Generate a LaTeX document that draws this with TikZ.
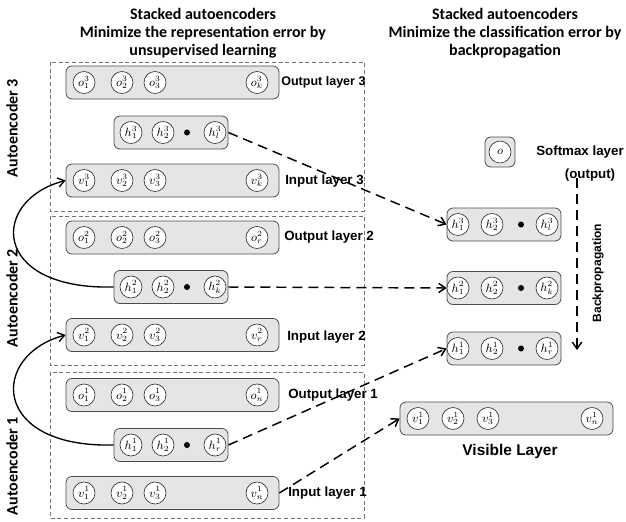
\documentclass[tikz,border=0pt]{standalone}
\usepackage{fontspec}
\newfontfamily\titlefont{Carlito}
\newfontfamily\labfont{Liberation Sans}
\usetikzlibrary{arrows.meta}
\tikzset{
  layerbox/.style={draw=black!70, fill=black!10, rounded corners=4.5pt, line width=0.6pt, inner sep=0pt, minimum height=24.75pt},
  unit/.style={circle, draw=black!80, fill=white, line width=0.5pt, inner sep=0pt, minimum size=16.5pt, font=\small},
  dotn/.style={circle, fill=black, inner sep=0pt, minimum size=4.5pt},
  aebox/.style={draw=black!55, dash pattern=on 3pt off 2pt, line width=0.5pt},
  lab/.style={font=\labfont\bfseries\fontsize{10}{12}\selectfont, anchor=west, inner sep=0pt},
  titlef/.style={font=\titlefont\bfseries\fontsize{12}{13.5}\selectfont, inner sep=0pt},
  feed/.style={line width=1.1pt, dash pattern=on 7.5pt off 4.5pt, -{Straight Barb[length=5pt,width=7pt]}},
  skipc/.style={line width=1pt, -{Straight Barb[length=5pt,width=7pt]}}
}
\begin{document}
\begin{tikzpicture}[x=0.75pt,y=-0.75pt]
\useasboundingbox (0,0) rectangle (626,522);
% titles
\node[titlef, align=center] (t1) at (203,33) {Stacked autoencoders\\Minimize the representation error by\\unsupervised learning};
\node[titlef, align=center] (t2) at (505,33) {Stacked autoencoders\\Minimize the classification error by\\backpropagation};
% autoencoder dashed boxes
\draw[aebox] (50,62) rectangle (364,211);
\draw[aebox] (50,216) rectangle (364,365);
\draw[aebox] (50,372) rectangle (364,518);
\node[titlef, rotate=90] (ae3) at (12,128) {Autoencoder 3};
\node[titlef, rotate=90] (ae2) at (12,298) {Autoencoder 2};
\node[titlef, rotate=90] (ae1) at (12,466) {Autoencoder 1};
% layer boxes (left)
\node[layerbox, minimum width=159.75pt] (o3box) at (172.5,82.5) {};
\node[layerbox, minimum width=85.5pt] (h3box) at (171,132.5) {};
\node[layerbox, minimum width=159.75pt] (i3box) at (172.5,180.5) {};
\node[layerbox, minimum width=159.75pt] (o2box) at (172.5,237.5) {};
\node[layerbox, minimum width=85.5pt] (h2box) at (171,287) {};
\node[layerbox, minimum width=159.75pt] (i2box) at (172.5,335) {};
\node[layerbox, minimum width=159.75pt] (o1box) at (172.5,395) {};
\node[layerbox, minimum width=85.5pt] (h1box) at (171,445) {};
\node[layerbox, minimum width=159.75pt] (i1box) at (172.5,493) {};
% right boxes
\node[layerbox, minimum width=22.5pt, minimum height=22.5pt] (smbox) at (500,152) {};
\node[layerbox, minimum width=85.5pt] (rh3box) at (504,224.5) {};
\node[layerbox, minimum width=85.5pt] (rh2box) at (504,288) {};
\node[layerbox, minimum width=85.5pt] (rh1box) at (504,348.5) {};
\node[layerbox, minimum width=159.75pt] (visbox) at (506.5,418.5) {};
% units
\foreach \nm/\x/\t in {o3a/84/o^3_1, o3b/122/o^3_2, o3c/155/o^3_3, o3d/257/o^3_k}
  \node[unit] (\nm) at (\x,82.5) {$\t$};
\foreach \nm/\x/\t in {h3a/131/h^3_1, h3b/163/h^3_2, h3d/215/h^3_l}
  \node[unit] (\nm) at (\x,132.5) {$\t$};
\foreach \nm/\x/\t in {i3a/84/v^3_1, i3b/122/v^3_2, i3c/155/v^3_3, i3d/257/v^3_k}
  \node[unit] (\nm) at (\x,180.5) {$\t$};
\foreach \nm/\x/\t in {o2a/84/o^2_1, o2b/122/o^2_2, o2c/155/o^2_3, o2d/257/o^2_r}
  \node[unit] (\nm) at (\x,237.5) {$\t$};
\foreach \nm/\x/\t in {h2a/131/h^2_1, h2b/163/h^2_2, h2d/215/h^2_k}
  \node[unit] (\nm) at (\x,287) {$\t$};
\foreach \nm/\x/\t in {i2a/84/v^2_1, i2b/122/v^2_2, i2c/155/v^2_3, i2d/257/v^2_r}
  \node[unit] (\nm) at (\x,335) {$\t$};
\foreach \nm/\x/\t in {o1a/84/o^1_1, o1b/122/o^1_2, o1c/155/o^1_3, o1d/257/o^1_n}
  \node[unit] (\nm) at (\x,395) {$\t$};
\foreach \nm/\x/\t in {h1a/131/h^1_1, h1b/163/h^1_2, h1d/215/h^1_r}
  \node[unit] (\nm) at (\x,445) {$\t$};
\foreach \nm/\x/\t in {i1a/84/v^1_1, i1b/122/v^1_2, i1c/155/v^1_3, i1d/257/v^1_n}
  \node[unit] (\nm) at (\x,493) {$\t$};
\node[dotn] (h3dot) at (187,132.5) {};
\node[dotn] (h2dot) at (187,287) {};
\node[dotn] (h1dot) at (187,445) {};
% right units
\node[unit] (smo) at (500,152) {$o$};
\foreach \nm/\x/\t in {rh3a/458/h^3_1, rh3b/492/h^3_2, rh3d/547/h^3_l}
  \node[unit] (\nm) at (\x,224.5) {$\t$};
\foreach \nm/\x/\t in {rh2a/458/h^2_1, rh2b/492/h^2_2, rh2d/547/h^2_k}
  \node[unit] (\nm) at (\x,288) {$\t$};
\foreach \nm/\x/\t in {rh1a/458/h^1_1, rh1b/492/h^1_2, rh1d/547/h^1_r}
  \node[unit] (\nm) at (\x,348.5) {$\t$};
\foreach \nm/\x/\t in {va/418/v^1_1, vb/453/v^1_2, vc/488/v^1_3, vd/592/v^1_n}
  \node[unit] (\nm) at (\x,418.5) {$\t$};
\node[dotn] (rh3dot) at (521,224.5) {};
\node[dotn] (rh2dot) at (521,288) {};
\node[dotn] (rh1dot) at (521,348.5) {};
% layer labels
\node[lab, font=\labfont\bfseries\fontsize{9.4}{11}\selectfont] (lo3) at (281,82.5) {Output layer 3};
\node[lab] (li3) at (285,181) {Input layer 3};
\node[lab] (lo2) at (284,237.5) {Output layer 2};
\node[lab] (li2) at (287,337) {Input layer 2};
\node[lab] (lo1) at (288,395) {Output layer 1};
\node[lab] (li1) at (288,493) {Input layer 1};
\node[lab, anchor=center] (smlab) at (580,152) {Softmax layer};
\node[lab, anchor=center] (smout) at (590,175) {(output)};
\node[lab, anchor=center, font=\labfont\bfseries\fontsize{11.6}{14}\selectfont] (vislab) at (510,451) {Visible Layer};
\node[lab, anchor=center, rotate=90, font=\labfont\bfseries\fontsize{9}{11}\selectfont] (bplab) at (598,273) {Backpropagation};
% connectors
\draw[feed] (h3box.east) -- (rh3box.west);
\draw[feed] (h2box.east) -- (rh2box.west);
\draw[feed] (h1box.east) -- (rh1box.west);
\draw[feed] (i1box.east) -- (visbox.west);
\coordinate (bpt) at (577,178);
\coordinate (bpb) at (577,350);
\draw[feed] (bpt) -- (bpb);
\draw[skipc] (h2box.west) .. controls (-10,290) and (-10,200) .. (i3box.west);
\draw[skipc] (h1box.west) .. controls (-10,448) and (-10,355) .. (i2box.west);
\end{tikzpicture}
\end{document}
